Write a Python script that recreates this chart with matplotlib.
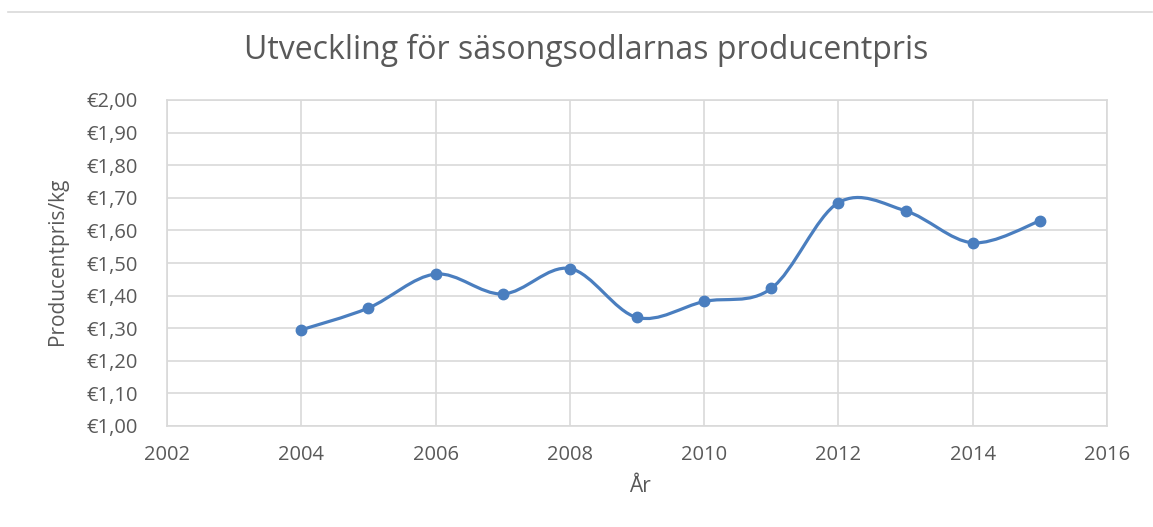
import matplotlib
matplotlib.use("Agg")
import matplotlib.pyplot as plt
from matplotlib.path import Path
from matplotlib.patches import PathPatch
from matplotlib.lines import Line2D
from matplotlib.ticker import FuncFormatter
import numpy as np

years = [2004, 2005, 2006, 2007, 2008, 2009, 2010, 2011, 2012, 2013, 2014, 2015]
prices = [1.295, 1.362, 1.466, 1.405, 1.483, 1.333, 1.382, 1.422, 1.685, 1.66, 1.562, 1.629]
title = "Utveckling för säsongsodlarnas producentpris"
xlabel = "År"
ylabel = "Producentpris/kg"

plt.rcParams['font.family'] = ['Open Sans', 'DejaVu Sans']

W, H = 1153, 527
fig = plt.figure(figsize=(W / 100, H / 100), dpi=100)
left, right, top, bottom = 167, 1107, 100, 426
ax = fig.add_axes([left / W, 1 - bottom / H, (right - left) / W, (bottom - top) / H])

color = '#4a7ebf'
grid_c = '#d9d9d9'
text_c = '#595959'

# smoothed line (Excel-like Catmull-Rom Bezier)
x = np.array(years, dtype=float)
y = np.array(prices, dtype=float)
P = np.column_stack([x, y])
Pext = np.vstack([P[0], P, P[-1]])
verts = [tuple(P[0])]
codes = [Path.MOVETO]
for i in range(len(P) - 1):
    p0, p1, p2, p3 = Pext[i], Pext[i + 1], Pext[i + 2], Pext[i + 3]
    c1 = p1 + (p2 - p0) / 6.0
    c2 = p2 - (p3 - p1) / 6.0
    verts += [tuple(c1), tuple(c2), tuple(p2)]
    codes += [Path.CURVE4] * 3
ax.add_patch(PathPatch(Path(verts, codes), facecolor='none', edgecolor=color,
                       lw=2.3, capstyle='round', joinstyle='round', zorder=3))
ax.plot(years, prices, linestyle='none', marker='o', markersize=7.5,
        color=color, zorder=4)

ax.set_xlim(2002, 2016)
ax.set_ylim(1.0, 2.0)
ax.set_xticks(np.arange(2002, 2017, 2))
ax.set_yticks(np.arange(1.0, 2.001, 0.1))
ax.yaxis.set_major_formatter(FuncFormatter(lambda v, p: "€" + f"{v:.2f}".replace(".", ",")))
ax.grid(True, color=grid_c, lw=1.2)
ax.set_axisbelow(True)
for s in ax.spines.values():
    s.set_color(grid_c)
    s.set_linewidth(1.2)
ax.tick_params(length=0, labelsize=14.5, labelcolor=text_c)
ax.tick_params(axis='x', pad=14)
ax.tick_params(axis='y', pad=21)

fig.text(586 / W, 1 - 50 / H, title, ha='center', va='center', fontsize=23, color=text_c)
fig.text(57 / W, 1 - 261 / H, ylabel, ha='center', va='center', rotation=90,
         fontsize=15, color=text_c)
fig.text(640 / W, 1 - 486 / H, xlabel, ha='center', va='center', fontsize=15, color=text_c)

fig.add_artist(Line2D([8 / W, 1152 / W], [1 - 12 / H, 1 - 12 / H], color='#d9d9d9', lw=1.2))

fig.savefig("out.png", dpi=100)
